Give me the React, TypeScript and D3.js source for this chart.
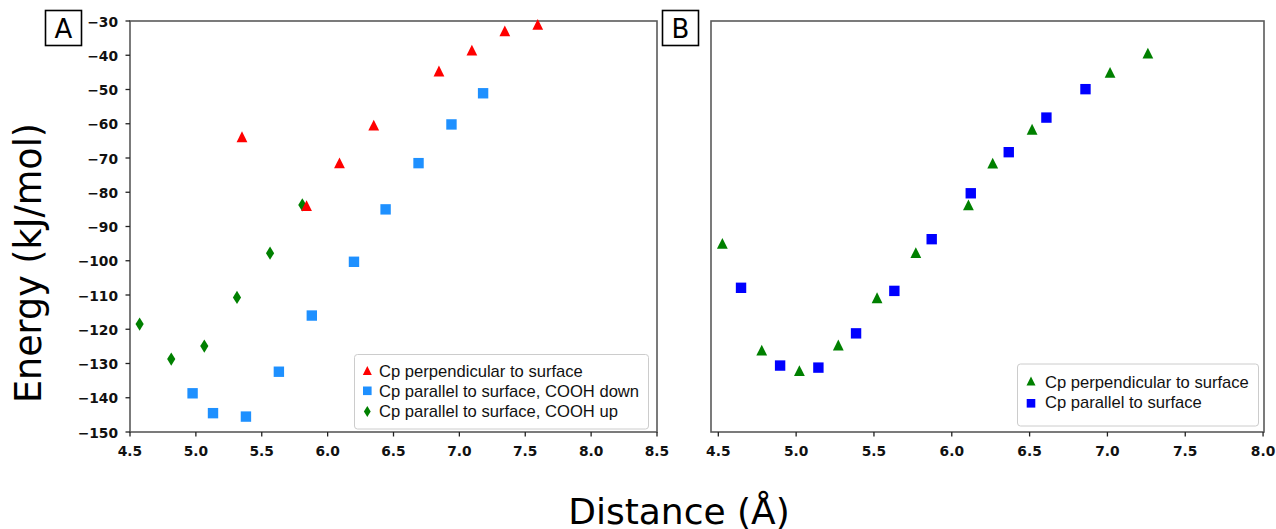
import React from "react";
import * as d3 from "d3";

// ---- Panel A data ----
const aPerpX = [5.35, 5.84, 6.09, 6.35, 6.845, 7.095, 7.345, 7.595];
const aPerpY = [-63.8, -83.9, -71.4, -60.4, -44.6, -38.5, -32.9, -31.0];
const aDownX = [4.975, 5.13, 5.38, 5.63, 5.88, 6.2, 6.44, 6.69, 6.94, 7.18];
const aDownY = [-138.7, -144.5, -145.5, -132.4, -116.0, -100.3, -85.0, -71.5, -60.2, -51.1];
const aUpX = [4.573, 4.813, 5.064, 5.312, 5.563, 5.808];
const aUpY = [-118.5, -128.7, -124.9, -110.7, -97.8, -83.7];

// ---- Panel B data ----
const bPerpX = [4.526, 4.779, 5.021, 5.271, 5.52, 5.769, 6.107, 6.263, 6.516, 7.017, 7.26];
const bPerpY = [-94.9, -126.1, -132.1, -124.6, -110.8, -97.6, -83.7, -71.5, -61.6, -45.0, -39.4];
const bParX = [4.646, 4.897, 5.143, 5.385, 5.631, 5.871, 6.122, 6.366, 6.608, 6.859];
const bParY = [-107.9, -130.6, -131.2, -121.2, -108.8, -93.7, -80.3, -68.3, -58.2, -49.9];

const aXTicks = [4.5, 5.0, 5.5, 6.0, 6.5, 7.0, 7.5, 8.0, 8.5];
const bXTicks = [4.5, 5.0, 5.5, 6.0, 6.5, 7.0, 7.5, 8.0];
const yTicks = [-30, -40, -50, -60, -70, -80, -90, -100, -110, -120, -130, -140, -150];

const legendA = [
  "Cp perpendicular to surface",
  "Cp parallel to surface, COOH down",
  "Cp parallel to surface, COOH up",
];
const legendB = ["Cp perpendicular to surface", "Cp parallel to surface"];

const RED = "#ff0000";
const DBLUE = "#1e90ff";
const GREEN = "#008000";
const BLUE = "#0000ff";

const TICK_FONT = "'DejaVu Sans', sans-serif";
const LEG_FONT = "'Liberation Sans', Arial, sans-serif";

function tri(cx: number, cy: number, h: number) {
  return `M${cx},${cy - h}L${cx + h},${cy + h}L${cx - h},${cy + h}Z`;
}
function sq(cx: number, cy: number, h: number) {
  return `M${cx - h},${cy - h}H${cx + h}V${cy + h}H${cx - h}Z`;
}
function dia(cx: number, cy: number, h: number) {
  const w = h * 0.62;
  return `M${cx},${cy - h}L${cx + w},${cy}L${cx},${cy + h}L${cx - w},${cy}Z`;
}

const yScale = d3.scaleLinear().domain([-30, -150]).range([21, 432]);
const xA = d3.scaleLinear().domain([4.5, 8.5]).range([130, 657]);
const xB = d3.scaleLinear().domain([4.453, 8.006]).range([711, 1264]);

const fmt = d3.format(".1f");

function Axes({ x, ticks, showY }: { x: d3.ScaleLinear<number, number>; ticks: number[]; showY: boolean }) {
  const [x0, x1] = x.range();
  const [y0, y1] = yScale.range();
  return (
    <g>
      <rect x={x0} y={y0} width={x1 - x0} height={y1 - y0} fill="none" stroke="#5a5a5a" strokeWidth={1.6} />
      {ticks.map((t) => (
        <g key={t}>
          <line x1={x(t)} x2={x(t)} y1={y1} y2={y1 + 4.5} stroke="#222" strokeWidth={1.3} />
          <text x={x(t)} y={y1 + 24} textAnchor="middle" fontFamily={TICK_FONT} fontWeight="bold" fontSize={13.8} fill="#111">
            {fmt(t)}
          </text>
        </g>
      ))}
      {showY &&
        yTicks.map((t) => (
          <g key={t}>
            <line x1={x0 - 4.5} x2={x0} y1={yScale(t)} y2={yScale(t)} stroke="#222" strokeWidth={1.3} />
            <text x={x0 - 12} y={yScale(t) + 5.5} textAnchor="end" fontFamily={TICK_FONT} fontWeight="bold" fontSize={13.8} fill="#111">
              {d3.format("d")(t).replace("-", "\u2212")}
            </text>
          </g>
        ))}
    </g>
  );
}

export default function App() {
  return (
    <svg width={1276} height={529} style={{ position: "absolute", left: 0, top: 0, background: "#fff" }}>
      <rect width={1276} height={529} fill="#fff" />
      <Axes x={xA} ticks={aXTicks} showY={true} />
      <Axes x={xB} ticks={bXTicks} showY={false} />

      {/* Panel A markers */}
      {aDownX.map((v, i) => (
        <path key={"ad" + i} d={sq(xA(v), yScale(aDownY[i]), 5.2)} fill={DBLUE} />
      ))}
      {aUpX.map((v, i) => (
        <path key={"au" + i} d={dia(xA(v), yScale(aUpY[i]), 6.6)} fill={GREEN} />
      ))}
      {aPerpX.map((v, i) => (
        <path key={"ap" + i} d={tri(xA(v), yScale(aPerpY[i]), 5.4)} fill={RED} />
      ))}

      {/* Panel B markers */}
      {bPerpX.map((v, i) => (
        <path key={"bp" + i} d={tri(xB(v), yScale(bPerpY[i]), 5.4)} fill={GREEN} />
      ))}
      {bParX.map((v, i) => (
        <path key={"bq" + i} d={sq(xB(v), yScale(bParY[i]), 5.2)} fill={BLUE} />
      ))}

      {/* Legend A */}
      <rect x={354.5} y={354.5} width={294} height={74.5} rx={3} fill="#fff" fillOpacity={0.8} stroke="#cccccc" strokeWidth={1} />
      <path d={tri(367.3, 370.5, 4.5)} fill={RED} />
      <path d={sq(367.3, 390.8, 4.3)} fill={DBLUE} />
      <path d={dia(367.3, 411.5, 5.5)} fill={GREEN} />
      {legendA.map((t, i) => (
        <text key={t} x={379} y={376.7 + i * 20} fontFamily={LEG_FONT} fontSize={16.6} fill="#111">
          {t}
        </text>
      ))}

      {/* Legend B */}
      <rect x={1017.5} y={364} width={241} height={62} rx={3} fill="#fff" fillOpacity={0.8} stroke="#cccccc" strokeWidth={1} />
      <path d={tri(1031, 381, 4.5)} fill={GREEN} />
      <path d={sq(1031, 403.3, 4.3)} fill={BLUE} />
      {legendB.map((t, i) => (
        <text key={t} x={1045} y={387.7 + i * 20} fontFamily={LEG_FONT} fontSize={16.6} fill="#111">
          {t}
        </text>
      ))}

      {/* Panel labels */}
      <rect x={45.5} y={10.5} width={36} height={35} fill="#fff" stroke="#000" strokeWidth={1.6} />
      <text x={63.5} y={38} textAnchor="middle" fontFamily={TICK_FONT} fontSize={26} fill="#000">A</text>
      <rect x={662.5} y={10.5} width={36} height={35} fill="#fff" stroke="#000" strokeWidth={1.6} />
      <text x={680.5} y={38} textAnchor="middle" fontFamily={TICK_FONT} fontSize={26} fill="#000">B</text>

      {/* Axis titles */}
      <text
        transform="translate(41,263) rotate(-90)"
        textAnchor="middle"
        fontFamily={TICK_FONT}
        fontSize={36.5}
        fill="#000"
      >
        Energy (kJ/mol)
      </text>
      <text x={679} y={524} textAnchor="middle" fontFamily={TICK_FONT} fontSize={36} fill="#000">
        Distance (Å)
      </text>
    </svg>
  );
}
